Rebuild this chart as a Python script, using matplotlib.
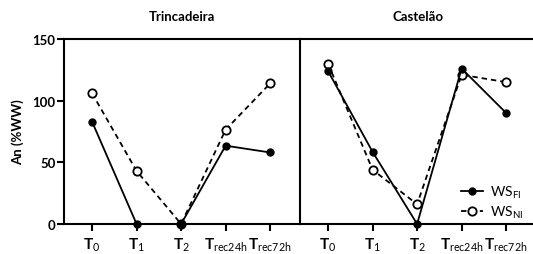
import numpy as np
import matplotlib
matplotlib.use("Agg")
import matplotlib.pyplot as plt

plt.rcParams['font.family'] = ['Lato', 'DejaVu Sans']
plt.rcParams['mathtext.fontset'] = 'custom'
plt.rcParams['mathtext.rm'] = 'Lato'
plt.rcParams['mathtext.bf'] = 'Lato:bold'
plt.rcParams['mathtext.it'] = 'Lato:italic'

# data
timepoints = [r'$\mathbf{T}_{0}$', r'$\mathbf{T}_{1}$', r'$\mathbf{T}_{2}$',
              r'$\mathbf{T}_{\mathrm{rec24h}}$', r'$\mathbf{T}_{\mathrm{rec72h}}$']
cultivars = ['Trincadeira', 'Castelão']
trinc_fi = [83, 0, 0, 63.5, 58]
trinc_ni = [106, 43, 0, 76.5, 114]
cast_fi = [124, 58.5, 0, 126, 90]
cast_ni = [130, 44, 16, 121, 115]

fig = plt.figure(figsize=(5.33, 2.55), dpi=100)
ax1 = fig.add_axes([64/533, 1-225/255, 236/533, 185/255])
ax2 = fig.add_axes([300/533, 1-225/255, 236/533, 185/255], sharey=ax1)

x = np.arange(len(timepoints))
for ax, fi, ni, name in [(ax1, trinc_fi, trinc_ni, cultivars[0]),
                         (ax2, cast_fi, cast_ni, cultivars[1])]:
    ax.plot(x, ni, color='black', ls=(0, (3, 2.2)), lw=1.3, marker='o', ms=6,
            mfc='white', mec='black', mew=1.3, clip_on=False, zorder=3,
            label=r'WS$_{\mathrm{NI}}$')
    ax.plot(x, fi, color='black', ls='-', lw=1.3, marker='o', ms=5,
            mfc='black', mec='black', clip_on=False, zorder=4,
            label=r'WS$_{\mathrm{FI}}$')
    ax.set_xlim(-0.63, 4.67)
    ax.set_ylim(0, 150)
    ax.set_xticks(x)
    ax.set_xticklabels(timepoints, fontsize=11)
    ax.set_title(name, fontsize=9.5, fontweight='bold', pad=14)
    for s in ax.spines.values():
        s.set_linewidth(1.5)
    ax.spines['right'].set_visible(False)
    ax.tick_params(axis='x', length=5, width=1.5, pad=3)

ax1.set_yticks([0, 50, 100, 150])
ax1.set_yticklabels(['0', '50', '100', '150'], fontsize=9.5, fontweight='bold')
ax1.tick_params(axis='y', length=5, width=1.5, pad=1)
ax1.set_ylabel('An (%WW)', fontsize=9.5, fontweight='bold', labelpad=6)
ax2.tick_params(axis='y', left=False, labelleft=False)

h, l = ax2.get_legend_handles_labels()
ax2.legend(h[::-1], l[::-1], loc='lower right', bbox_to_anchor=(1.0, -0.045),
           frameon=False, fontsize=10, handlelength=1.6, handletextpad=0.5,
           labelspacing=0.3)

fig.savefig('out.png', dpi=100)
